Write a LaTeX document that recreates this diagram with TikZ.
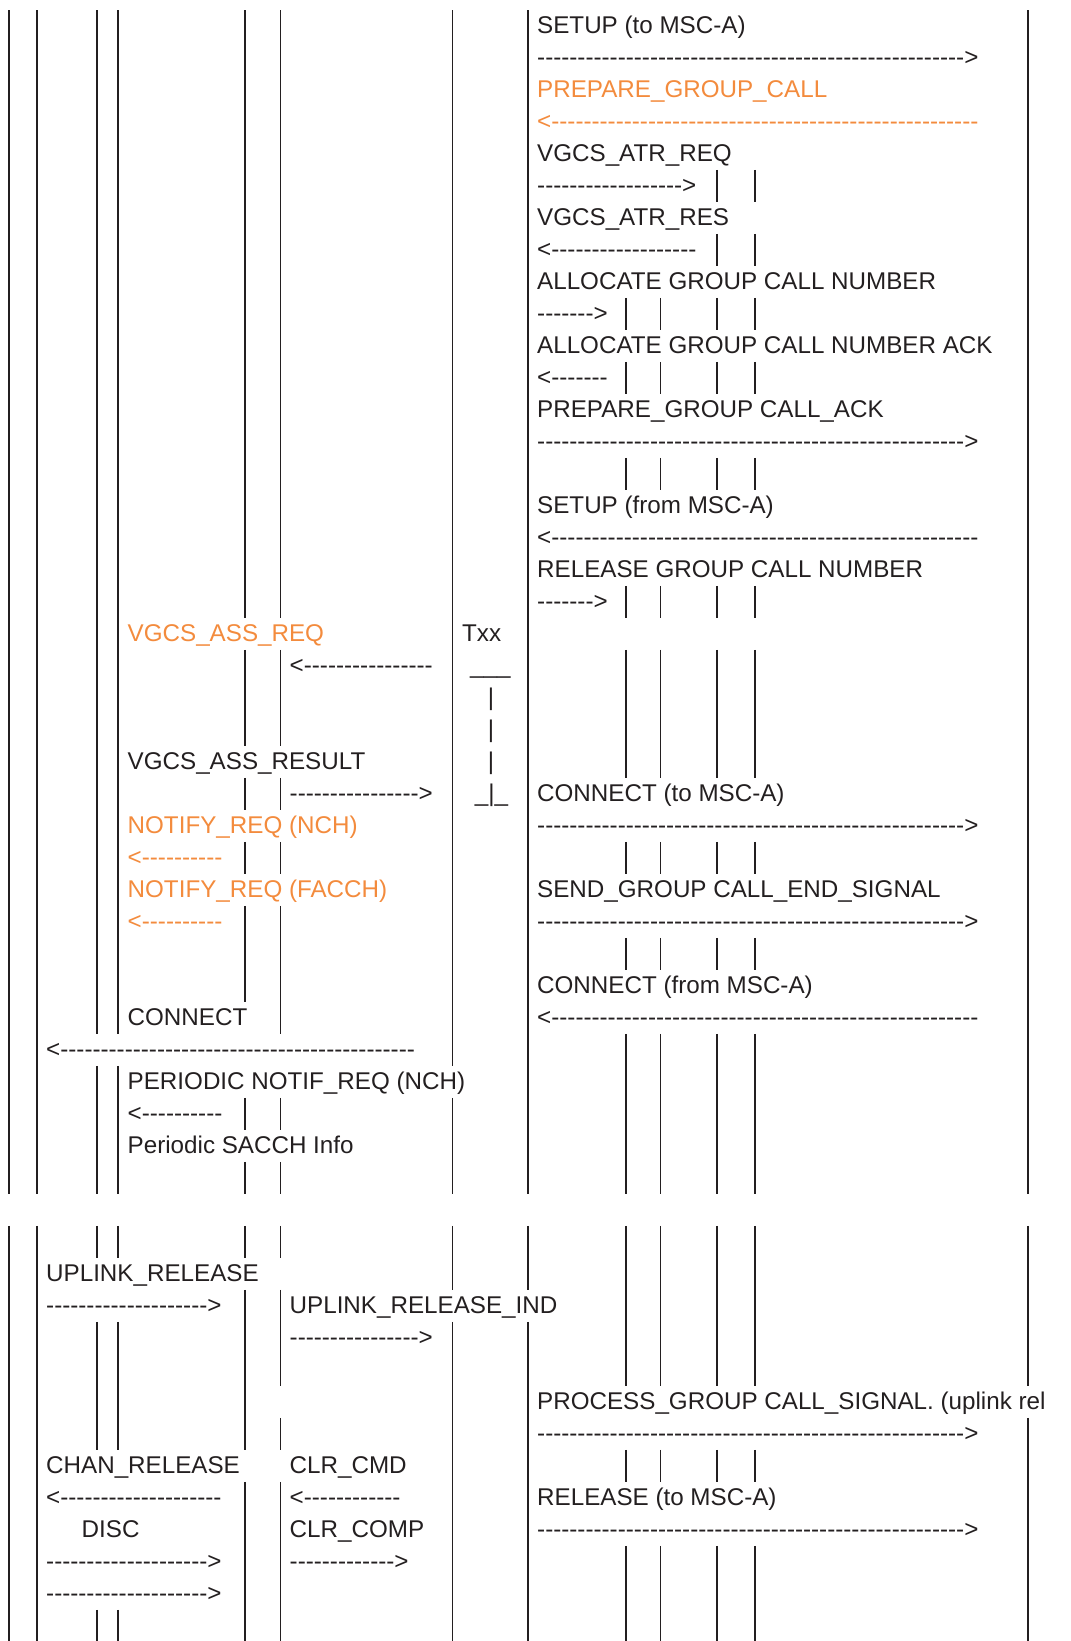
\documentclass[tikz,border=0pt]{standalone}
\usepackage{fontspec}
\newfontfamily\arial{Liberation Sans}
\usepackage{tikz}
\definecolor{ink}{RGB}{35,31,32}
\definecolor{orng}{RGB}{243,139,61}
\newcommand\rarr[1]{\foreach\i in {1,...,#1}{-}>}
\newcommand\larr[1]{<\foreach\i in {1,...,#1}{-}}
\tikzset{
  lane/.style={draw=ink, line width=1.8pt},
  msg/.style={anchor=base west, inner sep=0pt, text=ink, font=\arial\fontsize{24.2}{29}\selectfont},
  omsg/.style={msg, text=orng}
}

\begin{document}
\begin{tikzpicture}[x=1pt,y=-32pt]
\useasboundingbox (0,-0.3125) rectangle (1071,50.97);

% lanes (one row = one unit down)
\draw[lane] (9,0) -- (9,37) (9,38) -- (9,50.97);
\draw[lane] (37,0) -- (37,37) (37,38) -- (37,50.97);
\draw[lane] (97,0) -- (97,32) (97,33) -- (97,37) (97,38) -- (97,39) (97,41) -- (97,45) (97,50) -- (97,50.97);
\draw[lane] (118,0) -- (118,32) (118,33) -- (118,37) (118,38) -- (118,39) (118,41) -- (118,45) (118,50) -- (118,50.97);
\draw[lane] (245,0) -- (245,19) (245,20) -- (245,23) (245,24) -- (245,25) (245,26) -- (245,27) (245,28) -- (245,31)
  (245,34) -- (245,35) (245,36) -- (245,37) (245,38) -- (245,39) (245,40) -- (245,45) (245,46) -- (245,50.97);
\draw[lane] (280.5,0) -- (280.5,19) (280.5,20) -- (280.5,23) (280.5,24) -- (280.5,25) (280.5,26) -- (280.5,27) (280.5,28) -- (280.5,32)
  (280.5,34) -- (280.5,35) (280.5,36) -- (280.5,37) (280.5,38) -- (280.5,39) (280.5,40) -- (280.5,43) (280.5,44) -- (280.5,45) (280.5,46) -- (280.5,50.97);
\draw[lane] (452.5,0) -- (452.5,33) (452.5,34) -- (452.5,37) (452.5,38) -- (452.5,40) (452.5,41) -- (452.5,50.97);
\draw[lane] (527.7,0) -- (527.7,37) (527.7,38) -- (527.7,40) (527.7,41) -- (527.7,50.97);
\draw[lane] (626,9) -- (626,10) (626,11) -- (626,12) (626,14) -- (626,15) (626,18) -- (626,19) (626,20) -- (626,24) (626,26) -- (626,27)
  (626,29) -- (626,30) (626,32) -- (626,37) (626,38) -- (626,43) (626,45) -- (626,46) (626,48) -- (626,50.97);
\draw[lane] (660.6,9) -- (660.6,10) (660.6,11) -- (660.6,12) (660.6,14) -- (660.6,15) (660.6,18) -- (660.6,19) (660.6,20) -- (660.6,24) (660.6,26) -- (660.6,27)
  (660.6,29) -- (660.6,30) (660.6,32) -- (660.6,37) (660.6,38) -- (660.6,43) (660.6,45) -- (660.6,46) (660.6,48) -- (660.6,50.97);
\draw[lane] (716.8,5) -- (716.8,6) (716.8,7) -- (716.8,8) (716.8,9) -- (716.8,10) (716.8,11) -- (716.8,12) (716.8,14) -- (716.8,15) (716.8,18) -- (716.8,19)
  (716.8,20) -- (716.8,24) (716.8,26) -- (716.8,27) (716.8,29) -- (716.8,30) (716.8,32) -- (716.8,37) (716.8,38) -- (716.8,43) (716.8,45) -- (716.8,46) (716.8,48) -- (716.8,50.97);
\draw[lane] (754.7,5) -- (754.7,6) (754.7,7) -- (754.7,8) (754.7,9) -- (754.7,10) (754.7,11) -- (754.7,12) (754.7,14) -- (754.7,15) (754.7,18) -- (754.7,19)
  (754.7,20) -- (754.7,24) (754.7,26) -- (754.7,27) (754.7,29) -- (754.7,30) (754.7,32) -- (754.7,37) (754.7,38) -- (754.7,43) (754.7,45) -- (754.7,46) (754.7,48) -- (754.7,50.97);
\draw[lane] (1027.8,0) -- (1027.8,37) (1027.8,38) -- (1027.8,43) (1027.8,44) -- (1027.8,50.97);

% MSC side
\node[msg] (setupto) at (537,0.73) {SETUP (to MSC-A)};
\node[msg] (setuptoa) at (537,1.73) {\rarr{53}};
\node[omsg] (prep) at (537,2.73) {PREPARE\_GROUP\_CALL};
\node[omsg] (prepa) at (537,3.73) {\larr{53}};
\node[msg] (atrreq) at (537,4.73) {VGCS\_ATR\_REQ};
\node[msg] (atrreqa) at (537,5.73) {\rarr{18}};
\node[msg] (atrres) at (537,6.73) {VGCS\_ATR\_RES};
\node[msg] (atrresa) at (537,7.73) {\larr{18}};
\node[msg] (alloc) at (537,8.73) {ALLOCATE GROUP CALL NUMBER};
\node[msg] (alloca) at (537,9.73) {\rarr{7}};
\node[msg] (allocack) at (537,10.73) {ALLOCATE GROUP CALL NUMBER ACK};
\node[msg] (allocacka) at (537,11.73) {\larr{7}};
\node[msg] (prepack) at (537,12.73) {PREPARE\_GROUP CALL\_ACK};
\node[msg] (prepacka) at (537,13.73) {\rarr{53}};
\node[msg] (setupfrom) at (537,15.73) {SETUP (from MSC-A)};
\node[msg] (setupfroma) at (537,16.73) {\larr{53}};
\node[msg] (relnum) at (537,17.73) {RELEASE GROUP CALL NUMBER};
\node[msg] (relnuma) at (537,18.73) {\rarr{7}};
\node[msg] (conto) at (537,24.73) {CONNECT (to MSC-A)};
\node[msg] (contoa) at (537,25.73) {\rarr{53}};
\node[msg] (endsig) at (537,27.73) {SEND\_GROUP CALL\_END\_SIGNAL};
\node[msg] (endsiga) at (537,28.73) {\rarr{53}};
\node[msg] (confrom) at (537,30.73) {CONNECT (from MSC-A)};
\node[msg] (confroma) at (537,31.73) {\larr{53}};
\node[msg] (procsig) at (537,43.73) {PROCESS\_GROUP CALL\_SIGNAL. (uplink rel};
\node[msg] (procsiga) at (537,44.73) {\rarr{53}};
\node[msg] (relto) at (537,46.73) {RELEASE (to MSC-A)};
\node[msg] (reltoa) at (537,47.73) {\rarr{53}};

% BSS side
\node[omsg] (assreq) at (127.5,19.73) {VGCS\_ASS\_REQ};
\node[msg] (assres) at (127.5,23.73) {VGCS\_ASS\_RESULT};
\node[omsg] (notnch) at (127.5,25.73) {NOTIFY\_REQ (NCH)};
\node[omsg] (notncha) at (127.5,26.73) {\larr{10}};
\node[omsg] (notfac) at (127.5,27.73) {NOTIFY\_REQ (FACCH)};
\node[omsg] (notfaca) at (127.5,28.73) {\larr{10}};
\node[msg] (conbss) at (127.5,31.73) {CONNECT};
\node[msg] (pernot) at (127.5,33.73) {PERIODIC NOTIF\_REQ (NCH)};
\node[msg] (pernota) at (127.5,34.73) {\larr{10}};
\node[msg] (sacch) at (127.5,35.73) {Periodic SACCH Info};

\node[msg] (assreqa) at (289.5,20.73) {\larr{16}};
\node[msg] (assresa) at (289.5,24.73) {\rarr{16}};
\node[msg] (ulrelind) at (289.5,40.73) {UPLINK\_RELEASE\_IND};
\node[msg] (ulrelinda) at (289.5,41.73) {\rarr{16}};
\node[msg] (clrcmd) at (289.5,45.73) {CLR\_CMD};
\node[msg] (clrcmda) at (289.5,46.73) {\larr{12}};
\node[msg] (clrcomp) at (289.5,47.73) {CLR\_COMP};
\node[msg] (clrcompa) at (289.5,48.73) {\rarr{13}};

% MS side
\node[msg] (conms) at (46,32.73) {\larr{44}};
\node[msg] (ulrel) at (46,39.73) {UPLINK\_RELEASE};
\node[msg] (ulrela) at (46,40.73) {\rarr{20}};
\node[msg] (chanrel) at (46,45.73) {CHAN\_RELEASE};
\node[msg] (chanrela) at (46,46.73) {\larr{20}};
\node[msg] (disc) at (81.5,47.73) {DISC};
\node[msg] (disca) at (46,48.73) {\rarr{20}};
\node[msg] (discb) at (46,49.73) {\rarr{20}};

% timer
\node[msg] (txx) at (462,19.73) {Txx};
\node[msg] (txxtop) at (470,20.73) {\_\_\_};
\node[msg] (txx1) at (487.6,21.73) {|};
\node[msg] (txx2) at (487.6,22.73) {|};
\node[msg] (txx3) at (487.6,23.73) {|};
\node[msg] (txxend) at (474.7,24.73) {\_|\_};
\end{tikzpicture}
\end{document}
